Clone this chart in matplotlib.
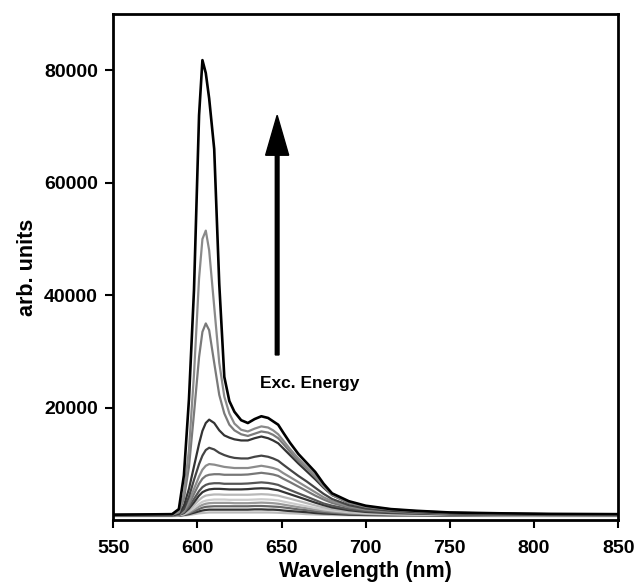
import matplotlib
matplotlib.use("Agg")
import matplotlib.pyplot as plt

# wavelength grid (nm) shared by every spectrum
wavelength = [550, 585, 589, 592, 595, 598, 601, 603, 605, 607, 610, 613, 616, 619, 622, 626,
              630, 634, 638, 642, 645, 648, 651, 655, 660, 665, 670, 675, 680, 690, 700, 715,
              730, 750, 780, 810, 850]

# spectra, highest excitation energy first
c1 = [1000, 1100, 2000, 8000, 21500, 41000, 72000, 81800, 79500, 75000, 66000, 42000, 25500, 21200,
      19300, 17800, 17300, 18000, 18500, 18200, 17600, 17000, 15600, 13800, 11800, 10200, 8600, 6500,
      4800, 3400, 2600, 2000, 1700, 1400, 1250, 1150, 1100]
c2 = [1000, 1000, 1500, 4800, 12500, 26000, 43000, 50000, 51500, 48000, 38000, 28000, 22000, 19000,
      17200, 16100, 15800, 16300, 16700, 16500, 16000, 15300, 14200, 12700, 11000, 9500, 8000, 6200,
      4600, 3200, 2500, 1950, 1650, 1380, 1200, 1100, 1050]
c3 = [1000, 1000, 1400, 3800, 9500, 19000, 29000, 33500, 35000, 33800, 28000, 22300, 19000, 17000,
      16000, 15300, 15000, 15400, 15800, 15600, 15200, 14600, 13600, 12200, 10600, 9200, 7700, 6000,
      4500, 3100, 2400, 1900, 1600, 1350, 1200, 1100, 1050]
c4 = [950, 950, 1200, 2600, 5600, 9600, 13600, 15900, 17300, 17900, 17300, 16000, 15100, 14700,
      14400, 14200, 14200, 14600, 14900, 14600, 14200, 13700, 12800, 11600, 10100, 8700, 7300, 5800,
      4500, 3100, 2400, 1850, 1550, 1300, 1150, 1050, 1000]
c5 = [950, 950, 1100, 2000, 4200, 7200, 10000, 11500, 12500, 12900, 12600, 12000, 11600, 11300,
      11100, 11000, 11000, 11300, 11500, 11300, 11000, 10600, 9900, 9000, 7900, 6900, 5800, 4700,
      3800, 2700, 2100, 1700, 1450, 1250, 1100, 1050, 1000]
c6 = [900, 900, 1050, 1700, 3300, 5600, 7800, 9000, 9700, 10000, 9900, 9700, 9500, 9400, 9300, 9300,
      9300, 9500, 9700, 9500, 9300, 9000, 8400, 7700, 6800, 5900, 5000, 4100, 3400, 2500, 1950, 1600,
      1400, 1200, 1100, 1000, 1000]
c7 = [900, 900, 1000, 1500, 2800, 4700, 6500, 7400, 7900, 8100, 8200, 8200, 8100, 8100, 8100, 8100,
      8150, 8300, 8450, 8300, 8150, 7900, 7400, 6800, 6000, 5200, 4400, 3700, 3100, 2300, 1850, 1550,
      1350, 1150, 1050, 1000, 950]
c8 = [900, 900, 1000, 1400, 2400, 3800, 5200, 5900, 6300, 6500, 6600, 6600, 6500, 6500, 6500, 6500,
      6550, 6650, 6750, 6650, 6500, 6300, 5900, 5400, 4800, 4200, 3600, 3000, 2600, 2000, 1650, 1400,
      1250, 1100, 1000, 950, 950]
c9 = [900, 900, 1000, 1300, 2100, 3200, 4400, 5000, 5300, 5500, 5600, 5600, 5550, 5500, 5500, 5500,
      5550, 5650, 5700, 5650, 5500, 5350, 5050, 4650, 4150, 3650, 3150, 2700, 2300, 1800, 1500, 1300,
      1200, 1050, 1000, 950, 900]
c10 = [850, 850, 950, 1200, 1800, 2700, 3600, 4100, 4400, 4500, 4600, 4600, 4550, 4550, 4550, 4550,
       4550, 4600, 4650, 4600, 4500, 4400, 4150, 3850, 3450, 3050, 2650, 2300, 2000, 1600, 1400, 1200,
       1100, 1000, 950, 900, 900]
c11 = [850, 850, 900, 1100, 1600, 2200, 2900, 3300, 3500, 3600, 3700, 3700, 3700, 3650, 3650, 3650,
       3650, 3700, 3750, 3700, 3650, 3550, 3350, 3100, 2800, 2500, 2200, 1950, 1750, 1450, 1250, 1100,
       1000, 950, 900, 900, 850]
c12 = [850, 850, 900, 1050, 1400, 1900, 2450, 2750, 2950, 3050, 3100, 3100, 3100, 3100, 3050, 3050,
       3050, 3100, 3150, 3100, 3050, 2950, 2800, 2600, 2350, 2150, 1900, 1700, 1550, 1300, 1150, 1050,
       1000, 950, 900, 850, 850]
c13 = [800, 800, 850, 1000, 1250, 1600, 2000, 2250, 2400, 2450, 2500, 2500, 2500, 2500, 2500, 2500,
       2500, 2550, 2550, 2500, 2450, 2400, 2300, 2150, 1950, 1800, 1600, 1450, 1350, 1150, 1050, 1000,
       950, 900, 850, 850, 800]
c14 = [800, 800, 850, 950, 1100, 1350, 1600, 1750, 1850, 1900, 1900, 1900, 1900, 1900, 1900, 1900,
       1900, 1950, 1950, 1900, 1900, 1850, 1750, 1650, 1550, 1450, 1300, 1200, 1150, 1000, 950, 900,
       900, 850, 850, 800, 800]
c15 = [750, 750, 800, 850, 950, 1100, 1250, 1300, 1350, 1400, 1400, 1400, 1400, 1400, 1400, 1400,
       1400, 1400, 1400, 1400, 1380, 1350, 1300, 1250, 1200, 1100, 1050, 1000, 950, 900, 850, 800,
       800, 800, 750, 750, 750]

spectra = [c1, c2, c3, c4, c5, c6, c7, c8, c9, c10, c11, c12, c13, c14, c15]
shades = ["#000000", "#8a8a8a", "#7a7a7a", "#333333", "#444444", "#8c8c8c", "#777777", "#555555",
          "#333333", "#b8b8b8", "#cccccc", "#999999", "#666666", "#333333", "#bbbbbb"]

xticks = [550, 600, 650, 700, 750, 800, 850]
yticks = [20000, 40000, 60000, 80000]

plt.rcParams["font.family"] = ["Liberation Sans", "DejaVu Sans"]
plt.rcParams["font.weight"] = "bold"

fig = plt.figure(figsize=(6.36, 5.84), dpi=100)
ax = fig.add_axes([0.178, 0.109, 0.794, 0.867])

# draw the weakest spectra first so the black one ends on top
for y, c in reversed(list(zip(spectra, shades))):
    lw = 1.9 if c == "#000000" else 1.6
    ax.plot(wavelength, y, color=c, lw=lw, solid_joinstyle="round")

ax.set_xlim(550, 850)
ax.set_ylim(0, 90000)
ax.set_xticks(xticks)
ax.set_yticks(yticks)
ax.tick_params(direction="out", length=6, width=1.5, labelsize=14, pad=5)
ax.tick_params(axis="x", pad=8)
for lab in ax.get_xticklabels() + ax.get_yticklabels():
    lab.set_fontweight("bold")
for s in ax.spines.values():
    s.set_linewidth(2)

ax.set_xlabel("Wavelength (nm)", fontsize=15.5, fontweight="bold", labelpad=3)
ax.set_ylabel("arb. units", fontsize=15.5, fontweight="bold", labelpad=4)

ax.arrow(647.4, 29400, 0, 42600, width=2.2, head_width=13.7, head_length=7100,
         length_includes_head=True, color="black")
ax.text(667, 24300, "Exc. Energy", ha="center", va="center", fontsize=12.5, fontweight="bold")

fig.savefig("out.png", dpi=100)
